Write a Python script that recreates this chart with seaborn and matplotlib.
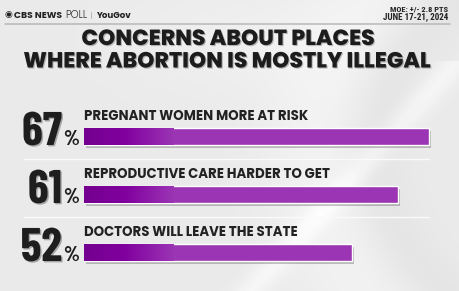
import numpy as np
import pandas as pd
import matplotlib
matplotlib.use("Agg")
import matplotlib.pyplot as plt
import matplotlib.transforms as mtransforms
import matplotlib.patheffects as pe
from matplotlib.colors import LinearSegmentedColormap
import seaborn as sns

# ---- data ----
categories = ["PREGNANT WOMEN MORE AT RISK",
              "REPRODUCTIVE CARE HARDER TO GET",
              "DOCTORS WILL LEAVE THE STATE"]
values = [67, 61, 52]
title_lines = ["CONCERNS ABOUT PLACES", "WHERE ABORTION IS MOSTLY ILLEGAL"]
moe_lines = ["MOE: +/- 2.8 PTS", "JUNE 17-21, 2024"]

sns.set_theme(style="white")
plt.rcParams['font.family'] = ['Poppins', 'DejaVu Sans']

W, H = 460, 291
fig = plt.figure(figsize=(W / 100, H / 100), dpi=100)
renderer = fig.canvas.get_renderer()


def fit_width(t, target_px):
    for _ in range(3):
        w = t.get_window_extent(renderer=renderer).width
        if w > 0:
            t.set_fontsize(t.get_fontsize() * target_px / w)
    return t


# ---- background ----
bg = fig.add_axes([0, 0, 1, 1], zorder=-10)
yy, xx = np.mgrid[0:H, 0:W]
base = 0.915 + 0.0 * xx
r = np.hypot(xx - 560, yy - 150)
base += 0.03 * np.exp(-((r - 240) / 60.0) ** 2)
base -= 0.03 * np.exp(-((r - 185) / 30.0) ** 2)
base += 0.045 * np.exp(-((xx - 0.9 * (291 - yy) - 250) / 18.0) ** 2) * (yy > 60)
base += 0.02 * np.exp(-((xx - 240) / 120.0) ** 2) * np.exp(-((yy - 40) / 60.0) ** 2)
bg.imshow(np.clip(base, 0, 1), cmap="gray", vmin=0, vmax=1, extent=[0, W, H, 0], aspect="auto")
bg.set_xlim(0, W)
bg.set_ylim(H, 0)
bg.axis("off")

# header rule and texts
bg.plot([5, 450], [24, 24], color="#b8b8b8", lw=1.1)
bg.text(5, 15, "\u25C9", fontsize=6.5, color="#222222", va="center", ha="left", family=["DejaVu Sans"])
t = bg.text(14, 15, "CBS NEWS", fontsize=6, weight=700, color="#222222", va="center", ha="left")
fit_width(t, 48)
t = bg.text(65, 15, "POLL", fontsize=6, weight=300, color="#333333", va="center", ha="left")
fit_width(t, 22)
bg.plot([91, 91], [12, 18], color="#aaaaaa", lw=0.6)
t = bg.text(97, 15, "YouGov", fontsize=6, weight=700, color="#222222", va="center", ha="left")
fit_width(t, 35)
t = bg.text(448, 9.5, moe_lines[0], fontsize=5, color="#222222", va="center", ha="right", weight=600,
            family=["Roboto Condensed", "DejaVu Sans"])
fit_width(t, 58)
t = bg.text(448, 17, moe_lines[1], fontsize=5, color="#222222", va="center", ha="right", weight=600,
            family=["Roboto Condensed", "DejaVu Sans"])
fit_width(t, 65)

# title
t2 = bg.text(227, 62, title_lines[1], fontsize=13, weight=800, color="#1c1c1c",
             va="center", ha="center",
             path_effects=[pe.withSimplePatchShadow(offset=(0.8, -0.8), alpha=0.25)])
fit_width(t2, 408)
bg.text(228, 39.5, title_lines[0], fontsize=t2.get_fontsize(), weight=800, color="#1c1c1c",
        va="center", ha="center",
        path_effects=[pe.withSimplePatchShadow(offset=(0.8, -0.8), alpha=0.25)])

# ---- bar axes ----
px_per_unit = 5.15
x_max = 70
ax_left = 84
ax_w = x_max * px_per_unit
row_px = 58
top_px = 136.5 - row_px
bot_px = 252.5 + 0.5 * row_px
ax = fig.add_axes([ax_left / W, (H - bot_px) / H, ax_w / W, (bot_px - top_px) / H])
ax.patch.set_alpha(0)

df = pd.DataFrame({"category": categories, "value": values})
bar_h = 17 / row_px
sns.barplot(data=df, y="category", x="value", orient="h", color="#9b35b4",
            width=bar_h, ax=ax, saturation=1)
ax.set_xlim(0, x_max)
ax.set_ylim(2.5, -1)
ax.axis("off")

# gradient fill clipped to each bar + shadow
cmap = LinearSegmentedColormap.from_list("pg", [(0, "#74008f"), (0.45, "#80009e"), (1, "#9b35b4")])
grad = np.linspace(0, 1, 256).reshape(1, -1)
g_end = 90 / px_per_unit
for p in ax.patches:
    x0, y0 = p.get_x(), p.get_y()
    w, h = p.get_width(), p.get_height()
    p.set_path_effects([pe.SimplePatchShadow(offset=(1.5, -2.5), alpha=0.35, shadow_rgbFace="#555555"), pe.Normal()])
    im = ax.imshow(grad, cmap=cmap, extent=[x0, x0 + g_end, y0 + h, y0], aspect="auto",
                   zorder=p.get_zorder() + 0.1, interpolation="bilinear")
    im.set_clip_path(p)

# labels, numbers, separators
num_tr = mtransforms.offset_copy(ax.transData, fig=fig, x=-22, y=0, units="dots")
pct_tr = mtransforms.offset_copy(ax.transData, fig=fig, x=-21, y=0, units="dots")
lab_tr = mtransforms.offset_copy(ax.transData, fig=fig, x=0, y=19.5, units="dots")
lab_size = None
for i, (cat, v) in enumerate(zip(categories, values)):
    lt = ax.text(0, i, cat, transform=lab_tr, fontsize=8.5 if lab_size is None else lab_size,
                 weight=700, color="#222222", va="center", ha="left")
    if lab_size is None:
        fit_width(lt, 224)
        lab_size = lt.get_fontsize()
    ax.text(0, i + bar_h / 2, f"{v}", transform=num_tr, fontsize=34, weight=700, color="#1e1e1e",
            ha="right", va="baseline", family=["Barlow Condensed", "DejaVu Sans"],
            path_effects=[pe.withSimplePatchShadow(offset=(1, -1), alpha=0.3)])
    ax.text(0, i + bar_h / 2, "%", transform=pct_tr, fontsize=15, weight=700, color="#1e1e1e",
            ha="left", va="baseline", family=["Barlow Condensed", "DejaVu Sans"])
    if i < len(categories) - 1:
        ax.plot([-60 / px_per_unit, 345 / px_per_unit], [i + 22.5 / row_px] * 2,
                color="#fafafa", lw=1.0, clip_on=False)

fig.savefig("out.png", dpi=100)
